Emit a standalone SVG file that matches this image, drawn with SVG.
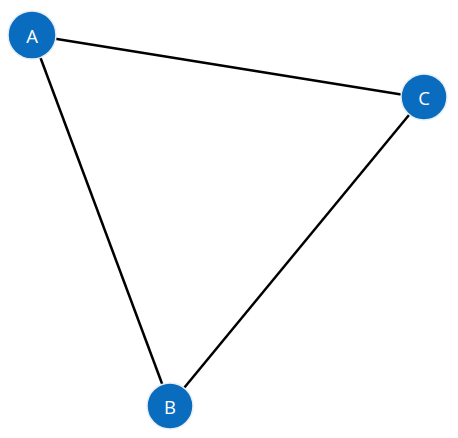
<svg xmlns="http://www.w3.org/2000/svg" width="458" height="438" viewBox="0 0 458 438">
<style>
.edge{stroke:#000;stroke-width:2.5;fill:none}
.node circle{fill:#0a6cbe;stroke:#e8eef5;stroke-width:1.5}
.node text{font-family:"Open Sans","Noto Sans",sans-serif;font-size:18.5px;fill:#fff;text-anchor:middle;dominant-baseline:central}
</style>
<rect width="458" height="438" fill="#fff"/>
<g id="edges">
<line class="edge" x1="32" y1="35" x2="423" y2="98"/>
<line class="edge" x1="32" y1="35" x2="170" y2="405"/>
<line class="edge" x1="423" y1="98" x2="170" y2="405"/>
</g>
<g id="node-A" class="node"><circle cx="32" cy="35" r="24"/><text x="32" y="35">A</text></g>
<g id="node-C" class="node"><circle cx="424" cy="97" r="23"/><text x="424" y="97">C</text></g>
<g id="node-B" class="node"><circle cx="170" cy="406" r="23"/><text x="170" y="406">B</text></g>
</svg>
